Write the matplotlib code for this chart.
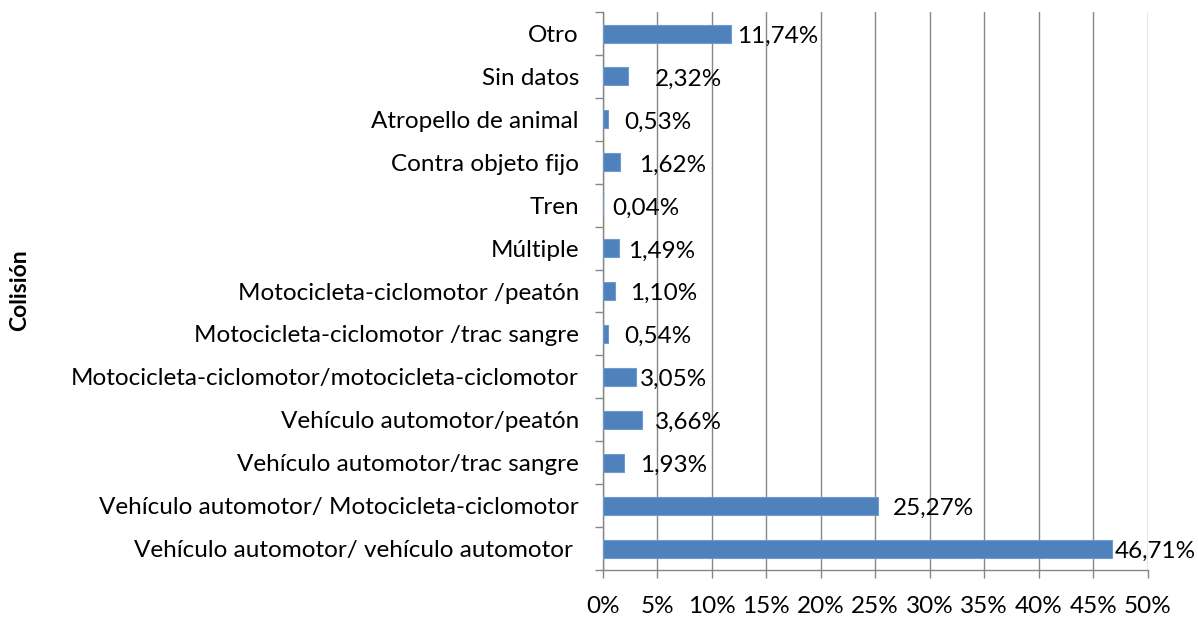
import matplotlib.pyplot as plt
from matplotlib.ticker import FixedLocator

categorias = [
    "Vehículo automotor/ vehículo automotor ",
    "Vehículo automotor/ Motocicleta-ciclomotor",
    "Vehículo automotor/trac sangre",
    "Vehículo automotor/peatón",
    "Motocicleta-ciclomotor/motocicleta-ciclomotor",
    "Motocicleta-ciclomotor /trac sangre",
    "Motocicleta-ciclomotor /peatón",
    "Múltiple",
    "Tren",
    "Contra objeto fijo",
    "Atropello de animal",
    "Sin datos",
    "Otro",
]
porcentajes = [46.71, 25.27, 1.93, 3.66, 3.05, 0.54, 1.10, 1.49, 0.04, 1.62, 0.53, 2.32, 11.74]
etiquetas = ["46,71%", "25,27%", "1,93%", "3,66%", "3,05%", "0,54%", "1,10%",
             "1,49%", "0,04%", "1,62%", "0,53%", "2,32%", "11,74%"]
# separación manual de cada etiqueta respecto al final de la barra (px)
separacion = [3, 15, 16, 12, 4, 16, 15, 9, 9, 19, 16, 27, 6]
ticks_x = [0, 5, 10, 15, 20, 25, 30, 35, 40, 45, 50]

plt.rcParams['font.family'] = ['Lato', 'DejaVu Sans']
fs = 17.5

fig = plt.figure(figsize=(11.98, 6.22), dpi=100)
ax = fig.add_axes([0.503, 0.0836, 0.455, 0.897])

pos = list(range(len(categorias)))
ax.barh(pos, porcentajes, height=0.42, color="#4F81BD", edgecolor="#6F9BD0",
        linewidth=0.8, zorder=3)

for p, v, txt, off in zip(pos, porcentajes, etiquetas, separacion):
    ax.annotate(txt, (v, p), xytext=(off * 0.72, -2), textcoords="offset points",
                ha="left", va="center", fontsize=fs, color="black", zorder=4)

ax.set_xlim(0, 50)
ax.set_ylim(-0.5, len(categorias) - 0.5)
ax.set_xticks(ticks_x)
ax.set_xticklabels([f"{t}%" for t in ticks_x], fontsize=fs)
ax.set_yticks(pos)
ax.set_yticklabels(categorias, fontsize=fs)
ax.yaxis.set_minor_locator(FixedLocator([i - 0.5 for i in range(len(categorias) + 1)]))
ax.tick_params(axis='y', which='major', length=0, pad=17)
ax.tick_params(axis='y', which='minor', length=6, color="#868686", width=1)
ax.tick_params(axis='x', length=6, color="#868686", width=1, pad=13)

ax.grid(axis='x', color="#868686", linewidth=1, zorder=0)
for s in ['top', 'right']:
    ax.spines[s].set_visible(False)
for s in ['left', 'bottom']:
    ax.spines[s].set_color("#868686")
    ax.spines[s].set_linewidth(1)

fig.text(0.016, 0.534, "Colisión", rotation=90, fontsize=16.5, fontweight="bold",
         ha="center", va="center")

fig.savefig("out.png", dpi=100)
